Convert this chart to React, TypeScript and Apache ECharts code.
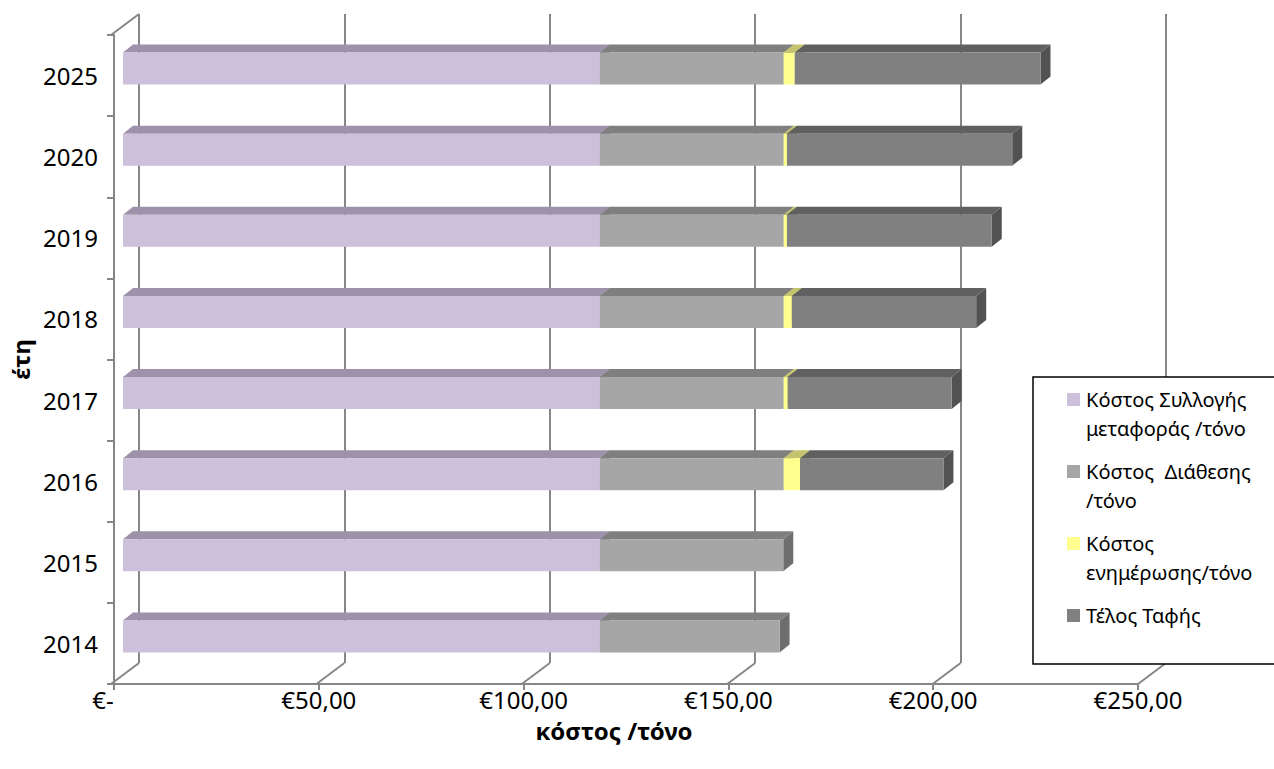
import React, { useEffect, useRef } from 'react';
import * as echarts from 'echarts';

// ---- data ----
const years = ['2014', '2015', '2016', '2017', '2018', '2019', '2020', '2025'];
const collectionCost = [116.4, 116.4, 116.4, 116.4, 116.4, 116.4, 116.4, 116.4];
const disposalCost = [43.9, 44.8, 44.9, 44.9, 44.9, 44.9, 44.9, 44.9];
const awarenessCost = [0, 0, 4.0, 1.0, 2.0, 0.8, 0.8, 2.7];
const landfillFee = [0, 0, 35, 40, 45, 50, 55, 60];
const seriesNames = [
  'Κόστος Συλλογής μεταφοράς /τόνο',
  'Κόστος  Διάθεσης /τόνο',
  'Κόστος ενημέρωσης/τόνο',
  'Τέλος Ταφής',
];
const legendLines = [
  ['Κόστος Συλλογής', 'μεταφοράς /τόνο'],
  ['Κόστος  Διάθεσης', '/τόνο'],
  ['Κόστος', 'ενημέρωσης/τόνο'],
  ['Τέλος Ταφής'],
];
const xMin = 0;
const xMax = 250;
const xStep = 50;
const xAxisTitle = 'κόστος /τόνο';
const yAxisTitle = 'έτη';

// ---- styling / layout ----
const FONT = 'Noto Sans';
const AXIS_GRAY = '#868686';
const FL = 111, FT = 35, FW = 1027, FH = 649; // front (floor) plane
const DX = 28, DY = 21; // depth of the back wall
const BOX = 9, BOY = 7; // bar front offset
const BDX = 10, BDY = 8; // bar depth
const BAR_H = 32;

const palette = [
  { front: '#CCC0DA', top: '#9D92A9', side: '#8A8096' },
  { front: '#A6A6A6', top: '#7F7F7F', side: '#6E6E6E' },
  { front: '#FFFF8F', top: '#C4C46E', side: '#A8A85A' },
  { front: '#808080', top: '#606060', side: '#525252' },
];

const stacks = [collectionCost, disposalCost, awarenessCost, landfillFee];

function fmtEuro(v: number) {
  if (v === 0) return '{z|€-}';
  return '€' + v.toFixed(2).replace('.', ',');
}

export default function App() {
  const ref = useRef<HTMLDivElement>(null);
  useEffect(() => {
    if (!ref.current) return;
    const chart = echarts.init(ref.current, null, { renderer: 'svg' });

    const seriesList = stacks.map((arr, si) => {
      const data = years.map((_, i) => {
        let start = 0;
        for (let k = 0; k < si; k++) start += stacks[k][i];
        return [start, start + arr[i], i];
      });
      const col = palette[si];
      return {
        type: 'custom',
        name: seriesNames[si],
        xAxisIndex: 0,
        yAxisIndex: 0,
        z: 3 + si,
        itemStyle: { color: col.front },
        encode: { x: [0, 1], y: 2 },
        data,
        renderItem: (params: any, api: any) => {
          const s = api.value(0);
          const e = api.value(1);
          const c = api.value(2);
          if (e - s <= 0) return null;
          const p0 = api.coord([s, c]);
          const p1 = api.coord([e, c]);
          const x0 = p0[0] + BOX;
          const x1 = p1[0] + BOX;
          const yc = p0[1] - BOY;
          const top = yc - BAR_H / 2;
          const bot = yc + BAR_H / 2;
          return {
            type: 'group',
            children: [
              {
                type: 'polygon',
                shape: { points: [[x1, top], [x1 + BDX, top - BDY], [x1 + BDX, bot - BDY], [x1, bot]] },
                style: { fill: col.side },
              },
              {
                type: 'polygon',
                shape: { points: [[x0, top], [x1, top], [x1 + BDX, top - BDY], [x0 + BDX, top - BDY]] },
                style: { fill: col.top },
              },
              {
                type: 'rect',
                shape: { x: x0, y: top, width: x1 - x0, height: BAR_H },
                style: { fill: col.front },
              },
            ],
          };
        },
      };
    });

    const diagonals: any[] = [];
    const nTicks = (xMax - xMin) / xStep;
    for (let k = 0; k <= nTicks; k++) {
      const x = FL + (k * FW) / nTicks;
      diagonals.push({
        type: 'line',
        shape: { x1: x, y1: FT + FH, x2: x + DX, y2: FT + FH - DY },
        style: { stroke: AXIS_GRAY, lineWidth: 2 },
        z: 1,
      });
    }
    diagonals.push({
      type: 'line',
      shape: { x1: FL, y1: FT, x2: FL + DX, y2: FT - DY },
      style: { stroke: AXIS_GRAY, lineWidth: 2 },
      z: 1,
    });

    const rich: any = {
      t: { fontFamily: FONT, fontSize: 20, color: '#000', lineHeight: 29, padding: [0, 0, 0, 6] },
      blank: { width: 13, height: 13 },
    };
    palette.forEach((p, i) => {
      rich['c' + i] = { width: 13, height: 13, backgroundColor: p.front };
    });

    chart.setOption({
      animation: false,
      backgroundColor: '#fff',
      textStyle: { fontFamily: FONT },
      grid: [
        { left: FL, top: FT, width: FW, height: FH },
        { left: FL + DX, top: FT - DY, width: FW, height: FH },
      ],
      xAxis: [
        {
          gridIndex: 0,
          type: 'value',
          min: xMin,
          max: xMax,
          interval: xStep,
          axisLine: { show: true, lineStyle: { color: AXIS_GRAY, width: 2 } },
          axisTick: { show: true, length: 6, lineStyle: { color: AXIS_GRAY, width: 2 } },
          splitLine: { show: false },
          axisLabel: {
            formatter: fmtEuro,
            fontSize: 24,
            color: '#000',
            fontFamily: FONT,
            margin: 3,
            rich: { z: { fontSize: 24, color: '#000', fontFamily: FONT, padding: [0, 22, 0, 0] } },
          },
          name: xAxisTitle,
          nameLocation: 'middle',
          nameGap: 34,
          nameTextStyle: {
            fontWeight: 'bold',
            fontSize: 24,
            color: '#000',
            fontFamily: FONT,
            padding: [0, 24, 0, 0],
          },
        },
        {
          gridIndex: 1,
          type: 'value',
          min: xMin,
          max: xMax,
          interval: xStep,
          axisLine: { show: false },
          axisTick: { show: false },
          axisLabel: { show: false },
          splitLine: { show: true, lineStyle: { color: AXIS_GRAY, width: 2 } },
        },
      ],
      yAxis: [
        {
          gridIndex: 0,
          type: 'category',
          data: years,
          axisLine: { show: true, lineStyle: { color: AXIS_GRAY, width: 2 } },
          axisTick: { show: true, length: 7, lineStyle: { color: AXIS_GRAY, width: 2 } },
          axisLabel: { fontSize: 24, color: '#000', fontFamily: FONT, margin: 16 },
          name: yAxisTitle,
          nameLocation: 'middle',
          nameGap: 82,
          nameTextStyle: { fontWeight: 'bold', fontSize: 24, color: '#000', fontFamily: FONT },
        },
        {
          gridIndex: 1,
          type: 'category',
          data: years,
          show: false,
        },
      ],
      legend: {
        orient: 'vertical',
        left: 1033,
        top: 377,
        padding: [8, 60, 34, 29],
        itemGap: 14,
        itemWidth: 0,
        itemHeight: 0,
        backgroundColor: '#fff',
        borderColor: '#000',
        borderWidth: 1.5,
        selectedMode: false,
        data: seriesNames,
        formatter: (name: string) => {
          const idx = seriesNames.indexOf(name);
          return legendLines[idx]
            .map((l, i) => (i === 0 ? `{c${idx}| }` : '{blank| }') + `{t|${l}}`)
            .join('\n');
        },
        textStyle: { rich, lineHeight: 29 },
      },
      graphic: diagonals,
      series: seriesList,
    });

    return () => chart.dispose();
  }, []);

  return (
    <div
      ref={ref}
      style={{ position: 'fixed', left: 0, top: 0, width: 1274, height: 769, background: '#fff' }}
    />
  );
}
